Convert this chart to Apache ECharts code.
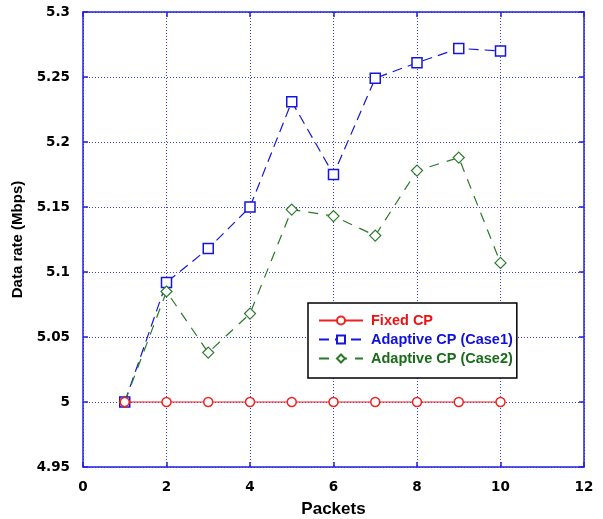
<!DOCTYPE html>
<html>
<head>
<meta charset="utf-8">
<script src="https://cdn.jsdelivr.net/npm/echarts@6/dist/echarts.min.js"></script>
<style>html,body{margin:0;padding:0;background:#fff;}#c{width:603px;height:519px;}</style>
</head>
<body>
<div id="c"></div>
<script>
var packets = [1, 2, 3, 4, 5, 6, 7, 8, 9, 10];
var fixedCP = [5, 5, 5, 5, 5, 5, 5, 5, 5, 5];
var adaptiveCase1 = [5.0, 5.092, 5.118, 5.150, 5.231, 5.175, 5.249, 5.261, 5.272, 5.270];
var adaptiveCase2 = [5.0, 5.085, 5.038, 5.068, 5.148, 5.143, 5.128, 5.178, 5.188, 5.107];
var seriesNames = ['Fixed CP', 'Adaptive CP (Case1)', 'Adaptive CP (Case2)'];

function pairs(ys) { return packets.map(function (x, i) { return [x, ys[i]]; }); }

var axisBlue = '#2020e0';
var font = 'Liberation Sans, Arial, sans-serif';
var tickLabel = { color: '#000', fontWeight: 'bold', fontSize: 13.5, fontFamily: 'DejaVu Sans, Verdana, sans-serif' };

var chart = echarts.init(document.getElementById('c'), null, { renderer: 'canvas' });
chart.setOption({
  animation: false,
  backgroundColor: '#fff',
  grid: { left: 83, right: 19, top: 12, bottom: 52, containLabel: false, outerBoundsMode: 'none' },
  legend: {
    orient: 'vertical',
    left: 308, top: 303,
    borderColor: '#000', borderWidth: 1.5,
    padding: [10, 4, 12, 10],
    itemGap: 4,
    itemWidth: 44, itemHeight: 10,
    backgroundColor: '#fff',
    textStyle: { fontWeight: 'bold', fontSize: 14.5, lineHeight: 15, fontFamily: font, padding: [0, 0, 0, 3] },
    data: [
      { name: seriesNames[0], textStyle: { color: '#ee1111' } },
      { name: seriesNames[1], textStyle: { color: '#1010dd' } },
      { name: seriesNames[2], textStyle: { color: '#1a6b1a' } }
    ]
  },
  xAxis: [{
    type: 'value', min: 0, max: 12, interval: 2,
    name: 'Packets', nameLocation: 'middle', nameGap: 34,
    nameTextStyle: { color: '#000', fontWeight: 'bold', fontSize: 17, fontFamily: font },
    axisLine: { show: true, onZero: false, lineStyle: { color: axisBlue, width: 1.5 } },
    axisTick: { show: true, inside: true, length: 5, lineStyle: { color: axisBlue, width: 1.5 } },
    axisLabel: Object.assign({ margin: 13 }, tickLabel),
    splitLine: { show: true, lineStyle: { color: '#3a3aff', type: [1, 2], width: 1 } }
  }, {
    type: 'value', min: 0, max: 12, interval: 2, position: 'top',
    axisLine: { show: true, onZero: false, lineStyle: { color: axisBlue, width: 1.5 } },
    axisTick: { show: true, inside: true, length: 5, lineStyle: { color: axisBlue, width: 1.5 } },
    axisLabel: { show: false }, splitLine: { show: false }
  }],
  yAxis: [{
    type: 'value', min: 4.95, max: 5.3, interval: 0.05,
    name: 'Data rate (Mbps)', nameLocation: 'middle', nameGap: 58,
    nameTextStyle: { color: '#000', fontWeight: 'bold', fontSize: 15, fontFamily: font },
    axisLine: { show: true, onZero: false, lineStyle: { color: axisBlue, width: 1.5 } },
    axisTick: { show: true, inside: true, length: 5, lineStyle: { color: axisBlue, width: 1.5 } },
    axisLabel: Object.assign({ margin: 13, formatter: function (v) { return String(+v.toFixed(2)); } }, tickLabel),
    splitLine: { show: true, lineStyle: { color: '#3a3aff', type: [1, 2], width: 1 } }
  }, {
    type: 'value', min: 4.95, max: 5.3, interval: 0.05, position: 'right',
    axisLine: { show: true, onZero: false, lineStyle: { color: axisBlue, width: 1.5 } },
    axisTick: { show: true, inside: true, length: 5, lineStyle: { color: axisBlue, width: 1.5 } },
    axisLabel: { show: false }, splitLine: { show: false }
  }],
  series: [{
    name: seriesNames[0], type: 'line', data: pairs(fixedCP), z: 3,
    symbol: 'circle', symbolSize: 9, showSymbol: true,
    lineStyle: { color: '#ee2222', width: 1.2 },
    itemStyle: { color: '#fff', borderColor: '#ee2222', borderWidth: 1.5 }
  }, {
    name: seriesNames[1], type: 'line', data: pairs(adaptiveCase1), z: 2,
    symbol: 'rect', symbolSize: 10, showSymbol: true,
    lineStyle: { color: '#1515dd', width: 1.2, type: [10, 6] },
    itemStyle: { color: '#fff', borderColor: '#1515dd', borderWidth: 1.5 }
  }, {
    name: seriesNames[2], type: 'line', data: pairs(adaptiveCase2), z: 2,
    symbol: 'diamond', symbolSize: 11, showSymbol: true,
    lineStyle: { color: '#2a7a2a', width: 1.2, type: [10, 8] },
    itemStyle: { color: '#fff', borderColor: '#2a7a2a', borderWidth: 1.2 }
  }]
});
</script>
</body>
</html>
